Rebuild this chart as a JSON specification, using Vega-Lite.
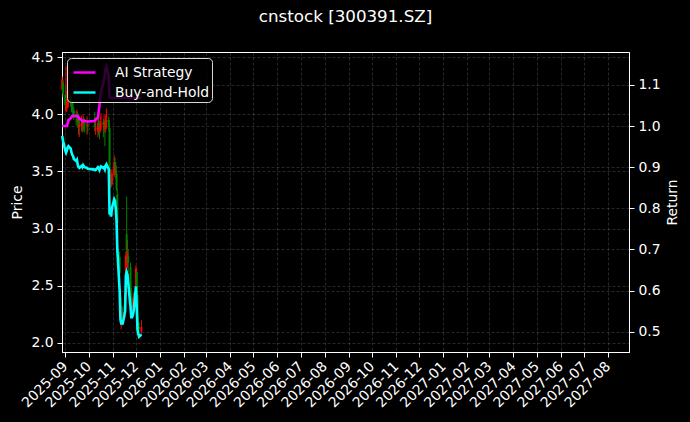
{
  "$schema": "https://vega.github.io/schema/vega-lite/v6.json",
  "width": 567,
  "height": 300,
  "autosize": {"type": "none"},
  "padding": {"left": 62, "top": 52, "right": 61, "bottom": 70},
  "background": "#000000",
  "title": {"text": "cnstock [300391.SZ]", "fontSize": 16.7, "fontWeight": "normal", "color": "#ffffff", "font": "DejaVu Sans", "anchor": "middle", "frame": "group", "offset": 24},
  "data": {"values": [
    {"date": "2025-08-28", "open": 4.22, "high": 4.33, "low": 4.20, "close": 4.30, "AI Strategy": 1.000, "Buy-and-Hold": 0.976},
    {"date": "2025-08-29", "open": 4.28, "high": 4.30, "low": 4.15, "close": 4.18, "AI Strategy": 1.000, "Buy-and-Hold": 0.965},
    {"date": "2025-09-01", "open": 4.17, "high": 4.25, "low": 4.03, "close": 4.08, "AI Strategy": 1.000, "Buy-and-Hold": 0.940},
    {"date": "2025-09-02", "open": 4.05, "high": 4.42, "low": 4.02, "close": 4.07, "AI Strategy": 1.000, "Buy-and-Hold": 0.935},
    {"date": "2025-09-03", "open": 4.06, "high": 4.20, "low": 4.02, "close": 4.09, "AI Strategy": 1.000, "Buy-and-Hold": 0.940},
    {"date": "2025-09-04", "open": 4.09, "high": 4.22, "low": 4.05, "close": 4.12, "AI Strategy": 1.005, "Buy-and-Hold": 0.948},
    {"date": "2025-09-05", "open": 4.12, "high": 4.20, "low": 4.06, "close": 4.14, "AI Strategy": 1.014, "Buy-and-Hold": 0.951},
    {"date": "2025-09-08", "open": 4.15, "high": 4.18, "low": 4.06, "close": 4.11, "AI Strategy": 1.019, "Buy-and-Hold": 0.945},
    {"date": "2025-09-09", "open": 4.11, "high": 4.14, "low": 4.02, "close": 4.07, "AI Strategy": 1.022, "Buy-and-Hold": 0.935},
    {"date": "2025-09-10", "open": 4.07, "high": 4.12, "low": 3.99, "close": 4.05, "AI Strategy": 1.024, "Buy-and-Hold": 0.930},
    {"date": "2025-09-11", "open": 4.04, "high": 4.10, "low": 3.97, "close": 4.03, "AI Strategy": 1.025, "Buy-and-Hold": 0.927},
    {"date": "2025-09-12", "open": 4.03, "high": 4.06, "low": 3.95, "close": 4.00, "AI Strategy": 1.024, "Buy-and-Hold": 0.920},
    {"date": "2025-09-15", "open": 4.00, "high": 4.03, "low": 3.90, "close": 3.98, "AI Strategy": 1.025, "Buy-and-Hold": 0.915},
    {"date": "2025-09-16", "open": 3.97, "high": 4.04, "low": 3.93, "close": 3.99, "AI Strategy": 1.024, "Buy-and-Hold": 0.918},
    {"date": "2025-09-17", "open": 3.99, "high": 4.02, "low": 3.88, "close": 3.94, "AI Strategy": 1.024, "Buy-and-Hold": 0.906},
    {"date": "2025-09-18", "open": 3.95, "high": 4.00, "low": 3.82, "close": 3.92, "AI Strategy": 1.022, "Buy-and-Hold": 0.900},
    {"date": "2025-09-19", "open": 3.89, "high": 3.98, "low": 3.80, "close": 3.91, "AI Strategy": 1.018, "Buy-and-Hold": 0.898},
    {"date": "2025-09-22", "open": 3.90, "high": 3.99, "low": 3.85, "close": 3.93, "AI Strategy": 1.014, "Buy-and-Hold": 0.903},
    {"date": "2025-09-23", "open": 3.93, "high": 3.96, "low": 3.84, "close": 3.92, "AI Strategy": 1.012, "Buy-and-Hold": 0.900},
    {"date": "2025-09-24", "open": 3.91, "high": 4.00, "low": 3.86, "close": 3.94, "AI Strategy": 1.012, "Buy-and-Hold": 0.905},
    {"date": "2025-09-25", "open": 3.94, "high": 3.97, "low": 3.85, "close": 3.92, "AI Strategy": 1.013, "Buy-and-Hold": 0.902},
    {"date": "2025-09-26", "open": 3.92, "high": 3.96, "low": 3.84, "close": 3.91, "AI Strategy": 1.012, "Buy-and-Hold": 0.900},
    {"date": "2025-09-29", "open": 3.90, "high": 3.98, "low": 3.82, "close": 3.91, "AI Strategy": 1.011, "Buy-and-Hold": 0.898},
    {"date": "2025-09-30", "open": 3.91, "high": 3.95, "low": 3.84, "close": 3.90, "AI Strategy": 1.011, "Buy-and-Hold": 0.896},
    {"date": "2025-10-09", "open": 3.92, "high": 4.02, "low": 3.85, "close": 3.89, "AI Strategy": 1.012, "Buy-and-Hold": 0.894},
    {"date": "2025-10-10", "open": 3.87, "high": 3.97, "low": 3.82, "close": 3.88, "AI Strategy": 1.016, "Buy-and-Hold": 0.893},
    {"date": "2025-10-13", "open": 3.85, "high": 4.00, "low": 3.80, "close": 3.92, "AI Strategy": 1.020, "Buy-and-Hold": 0.900},
    {"date": "2025-10-14", "open": 3.92, "high": 3.96, "low": 3.82, "close": 3.90, "AI Strategy": 1.035, "Buy-and-Hold": 0.897},
    {"date": "2025-10-15", "open": 3.90, "high": 3.94, "low": 3.78, "close": 3.88, "AI Strategy": 1.050, "Buy-and-Hold": 0.893},
    {"date": "2025-10-16", "open": 3.86, "high": 3.98, "low": 3.84, "close": 3.91, "AI Strategy": 1.070, "Buy-and-Hold": 0.899},
    {"date": "2025-10-17", "open": 3.91, "high": 4.01, "low": 3.86, "close": 3.92, "AI Strategy": 1.085, "Buy-and-Hold": 0.902},
    {"date": "2025-10-20", "open": 3.93, "high": 3.96, "low": 3.80, "close": 3.91, "AI Strategy": 1.105, "Buy-and-Hold": 0.898},
    {"date": "2025-10-21", "open": 3.90, "high": 3.99, "low": 3.85, "close": 3.92, "AI Strategy": 1.115, "Buy-and-Hold": 0.900},
    {"date": "2025-10-22", "open": 3.92, "high": 3.95, "low": 3.72, "close": 3.89, "AI Strategy": 1.125, "Buy-and-Hold": 0.895},
    {"date": "2025-10-23", "open": 3.87, "high": 4.00, "low": 3.84, "close": 3.93, "AI Strategy": 1.140, "Buy-and-Hold": 0.903},
    {"date": "2025-10-24", "open": 3.93, "high": 4.05, "low": 3.88, "close": 3.95, "AI Strategy": 1.145, "Buy-and-Hold": 0.907},
    {"date": "2025-10-27", "open": 3.95, "high": 3.98, "low": 3.85, "close": 3.89, "AI Strategy": 1.120, "Buy-and-Hold": 0.895},
    {"date": "2025-10-28", "open": 3.88, "high": 3.90, "low": 3.40, "close": 3.41, "AI Strategy": 1.070, "Buy-and-Hold": 0.785},
    {"date": "2025-10-29", "open": 3.40, "high": 3.52, "low": 3.35, "close": 3.44, "AI Strategy": 1.068, "Buy-and-Hold": 0.790},
    {"date": "2025-10-30", "open": 3.45, "high": 3.48, "low": 3.36, "close": 3.39, "AI Strategy": 1.068, "Buy-and-Hold": 0.780},
    {"date": "2025-10-31", "open": 3.39, "high": 3.52, "low": 3.37, "close": 3.48, "AI Strategy": 1.068, "Buy-and-Hold": 0.800},
    {"date": "2025-11-03", "open": 3.47, "high": 3.64, "low": 3.45, "close": 3.58, "AI Strategy": 1.068, "Buy-and-Hold": 0.822},
    {"date": "2025-11-04", "open": 3.58, "high": 3.62, "low": 3.50, "close": 3.56, "AI Strategy": 1.068, "Buy-and-Hold": 0.818},
    {"date": "2025-11-05", "open": 3.55, "high": 3.58, "low": 3.44, "close": 3.48, "AI Strategy": 1.068, "Buy-and-Hold": 0.800},
    {"date": "2025-11-06", "open": 3.48, "high": 3.50, "low": 3.33, "close": 3.35, "AI Strategy": 1.068, "Buy-and-Hold": 0.770},
    {"date": "2025-11-07", "open": 3.30, "high": 3.35, "low": 3.05, "close": 3.05, "AI Strategy": 1.068, "Buy-and-Hold": 0.700},
    {"date": "2025-11-10", "open": 2.75, "high": 2.80, "low": 2.61, "close": 2.61, "AI Strategy": 1.068, "Buy-and-Hold": 0.600},
    {"date": "2025-11-11", "open": 2.40, "high": 2.45, "low": 2.31, "close": 2.31, "AI Strategy": 1.068, "Buy-and-Hold": 0.530},
    {"date": "2025-11-12", "open": 2.18, "high": 2.33, "low": 2.12, "close": 2.26, "AI Strategy": 1.068, "Buy-and-Hold": 0.520},
    {"date": "2025-11-13", "open": 2.24, "high": 2.30, "low": 2.15, "close": 2.26, "AI Strategy": 1.068, "Buy-and-Hold": 0.520},
    {"date": "2025-11-14", "open": 2.27, "high": 2.32, "low": 2.20, "close": 2.26, "AI Strategy": 1.068, "Buy-and-Hold": 0.520},
    {"date": "2025-11-17", "open": 2.25, "high": 2.42, "low": 2.22, "close": 2.39, "AI Strategy": 1.068, "Buy-and-Hold": 0.550},
    {"date": "2025-11-18", "open": 2.42, "high": 2.80, "low": 2.40, "close": 2.76, "AI Strategy": 1.068, "Buy-and-Hold": 0.635},
    {"date": "2025-11-19", "open": 2.95, "high": 3.28, "low": 2.70, "close": 2.81, "AI Strategy": 1.068, "Buy-and-Hold": 0.645},
    {"date": "2025-11-20", "open": 2.72, "high": 2.90, "low": 2.65, "close": 2.78, "AI Strategy": 1.068, "Buy-and-Hold": 0.640},
    {"date": "2025-11-21", "open": 2.76, "high": 2.82, "low": 2.62, "close": 2.70, "AI Strategy": 1.068, "Buy-and-Hold": 0.620},
    {"date": "2025-11-24", "open": 2.66, "high": 2.70, "low": 2.42, "close": 2.44, "AI Strategy": 1.068, "Buy-and-Hold": 0.560},
    {"date": "2025-11-25", "open": 2.44, "high": 2.48, "low": 2.30, "close": 2.33, "AI Strategy": 1.068, "Buy-and-Hold": 0.535},
    {"date": "2025-11-26", "open": 2.31, "high": 2.38, "low": 2.26, "close": 2.33, "AI Strategy": 1.068, "Buy-and-Hold": 0.535},
    {"date": "2025-11-27", "open": 2.32, "high": 2.40, "low": 2.28, "close": 2.35, "AI Strategy": 1.068, "Buy-and-Hold": 0.540},
    {"date": "2025-11-28", "open": 2.35, "high": 2.44, "low": 2.32, "close": 2.39, "AI Strategy": 1.068, "Buy-and-Hold": 0.550},
    {"date": "2025-12-01", "open": 2.42, "high": 2.68, "low": 2.40, "close": 2.65, "AI Strategy": 1.068, "Buy-and-Hold": 0.610},
    {"date": "2025-12-02", "open": 2.62, "high": 2.66, "low": 2.42, "close": 2.44, "AI Strategy": 1.068, "Buy-and-Hold": 0.560},
    {"date": "2025-12-03", "open": 2.42, "high": 2.45, "low": 2.18, "close": 2.20, "AI Strategy": 1.068, "Buy-and-Hold": 0.505},
    {"date": "2025-12-04", "open": 2.18, "high": 2.22, "low": 2.08, "close": 2.15, "AI Strategy": 1.068, "Buy-and-Hold": 0.495},
    {"date": "2025-12-05", "open": 2.14, "high": 2.18, "low": 2.04, "close": 2.12, "AI Strategy": 1.068, "Buy-and-Hold": 0.488},
    {"date": "2025-12-08", "open": 2.10, "high": 2.20, "low": 2.06, "close": 2.14, "AI Strategy": 1.068, "Buy-and-Hold": 0.493}
  ]},
  "layer": [
    {
      "layer": [
        {
          "mark": {"type": "rule", "strokeWidth": 1},
          "encoding": {
            "x": {"field": "date", "type": "temporal",
              "scale": {"type": "utc", "domain": [{"year": 2025, "month": 8, "date": 27, "hours": 18, "utc": true}, {"year": 2027, "month": 8, "date": 28, "utc": true}], "nice": false},
              "axis": {"title": null, "format": "%Y-%m", "tickCount": {"interval": "month", "step": 1}, "labelAngle": -45, "labelAlign": "right", "labelBaseline": "middle", "labelPadding": 7, "labelOverlap": false, "labelFlush": false, "labelBound": false, "grid": true}},
            "y": {"field": "low", "type": "quantitative",
              "scale": {"domain": [1.921, 4.544], "nice": false, "zero": false},
              "axis": {"title": "Price", "orient": "left", "values": [2.0, 2.5, 3.0, 3.5, 4.0, 4.5], "format": ".1f", "grid": true, "titlePadding": 6}},
            "y2": {"field": "high"},
            "color": {"condition": {"test": "datum.close >= datum.open", "value": "#ff0000"}, "value": "#008000"}
          }
        },
        {
          "mark": {"type": "rule", "strokeWidth": 2},
          "encoding": {
            "x": {"field": "date", "type": "temporal",
              "axis": {"title": null, "format": "%Y-%m", "tickCount": {"interval": "month", "step": 1}, "labelAngle": -45, "labelAlign": "right", "labelBaseline": "middle", "labelPadding": 7, "labelOverlap": false, "labelFlush": false, "labelBound": false, "grid": true}},
            "y": {"field": "open", "type": "quantitative", "axis": {"title": "Price", "orient": "left", "values": [2.0, 2.5, 3.0, 3.5, 4.0, 4.5], "format": ".1f", "grid": true, "titlePadding": 6}},
            "y2": {"field": "close"},
            "color": {"condition": {"test": "datum.close >= datum.open", "value": "#ff0000"}, "value": "#008000"}
          }
        }
      ]
    },
    {
      "transform": [{"fold": ["AI Strategy", "Buy-and-Hold"], "as": ["series", "ret"]}],
      "mark": {"type": "line", "strokeWidth": 2.6},
      "encoding": {
        "x": {"field": "date", "type": "temporal",
          "axis": {"title": null, "format": "%Y-%m", "tickCount": {"interval": "month", "step": 1}, "labelAngle": -45, "labelAlign": "right", "labelBaseline": "middle", "labelPadding": 7, "labelOverlap": false, "labelFlush": false, "labelBound": false, "grid": true}},
        "y": {"field": "ret", "type": "quantitative",
          "scale": {"domain": [0.4506, 1.18], "nice": false, "zero": false},
          "axis": {"title": "Return", "orient": "right", "values": [0.5, 0.6, 0.7, 0.8, 0.9, 1.0, 1.1], "format": ".1f", "grid": true, "titleAngle": 270, "titleBaseline": "top", "titlePadding": 5}},
        "stroke": {"field": "series", "type": "nominal",
          "scale": {"domain": ["AI Strategy", "Buy-and-Hold"], "range": ["#ff00ff", "#00ffff"]},
          "legend": {"title": null, "orient": "none", "legendX": 5, "legendY": 6, "zindex": 5, "fillColor": "rgba(0,0,0,0.8)", "strokeColor": "#d8d8d8", "cornerRadius": 4, "padding": 2, "symbolType": "stroke", "symbolSize": 484, "symbolOffset": 3, "symbolStrokeWidth": 2.4, "labelFontSize": 13.9, "labelColor": "#ffffff", "labelFont": "DejaVu Sans", "rowPadding": -1, "labelOffset": 18}}
      }
    }
  ],
  "resolve": {"scale": {"y": "independent"}},
  "config": {
    "font": "DejaVu Sans",
    "view": {"stroke": "#ffffff", "strokeWidth": 1},
    "legend": {"zindex": 5},
    "axis": {"domainColor": "#ffffff", "tickColor": "#ffffff", "labelColor": "#ffffff", "titleColor": "#ffffff", "labelFontSize": 13.9, "titleFontSize": 13.9, "titleFontWeight": "normal", "labelFont": "DejaVu Sans", "titleFont": "DejaVu Sans", "gridColor": "#ffffff", "gridOpacity": 0.22, "gridDash": [3, 2], "gridWidth": 0.7, "tickSize": 5, "labelPadding": 4}
  }
}
